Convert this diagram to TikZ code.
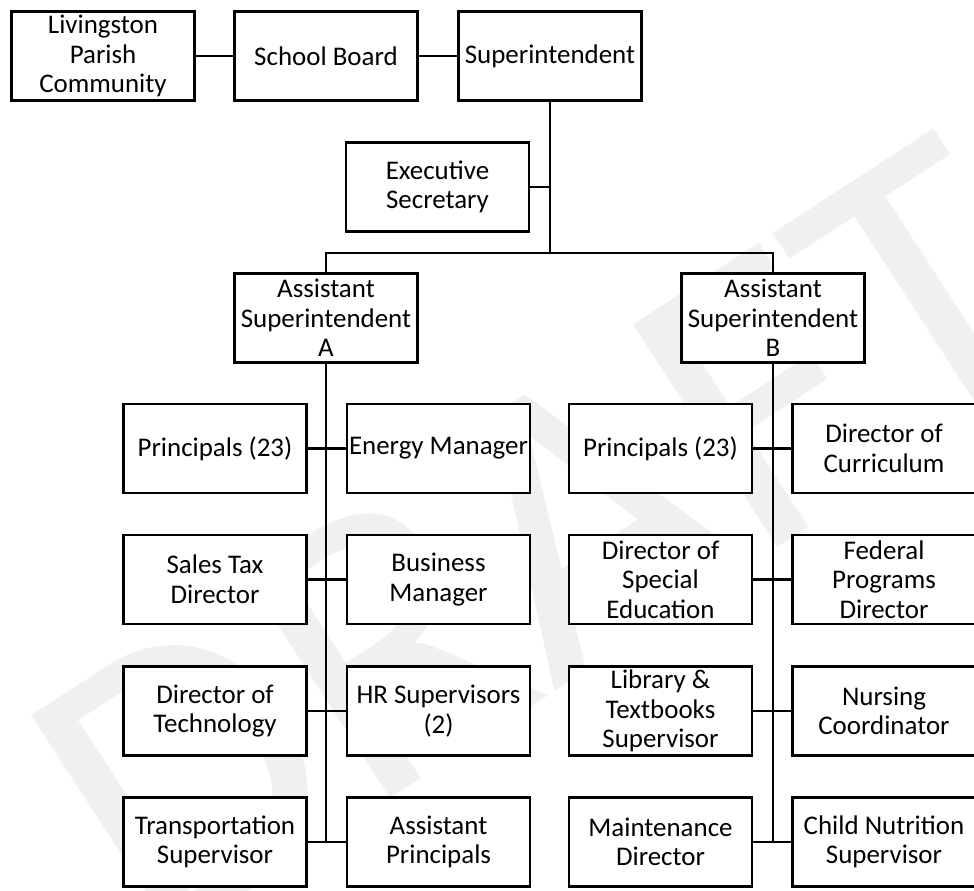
\documentclass[tikz,border=0pt]{standalone}
\usepackage{fontspec}
\setmainfont{Carlito}
\begin{document}
\begin{tikzpicture}[x=0.75pt,y=-0.75pt,
  box/.style={draw=black,line width=1.8pt,fill=white,minimum width=137pt,minimum height=67pt,
    inner sep=0pt,align=center,font=\fontsize{20.2pt}{22.2pt}\selectfont},
  link/.style={line width=1.6pt},
  trunk/.style={line width=2.1pt}]
\useasboundingbox (0,0) rectangle (974,890);
\clip (0,0) rectangle (974,890);
\node[rotate=33,text=gray!12,font=\fontsize{310pt}{310pt}\selectfont] (wm) at (545,540) {DRAFT};
% top row
\node[box] (lpc) at (103,56) {Livingston\\Parish\\Community};
\node[box] (sb) at (326,56) {School Board};
\node[box] (sup) at (550,56) {Superintendent};
\node[box] (exec) at (437.5,187) {Executive\\Secretary};
\node[box] (asa) at (326,318) {Assistant\\Superintendent\\A};
\node[box] (asb) at (773,318) {Assistant\\Superintendent\\B};
% A side
\node[box] (a1l) at (215,448.5) {Principals (23)};
\node[box] (a1r) at (438.5,448.5) {Energy Manager};
\node[box] (a2l) at (215,579.5) {Sales Tax\\Director};
\node[box] (a2r) at (438.5,579.5) {Business\\Manager};
\node[box] (a3l) at (215,711) {Director of\\Technology};
\node[box] (a3r) at (438.5,711) {HR Supervisors\\(2)};
\node[box] (a4l) at (215,842) {Transportation\\Supervisor};
\node[box] (a4r) at (438.5,842) {Assistant\\Principals};
% B side
\node[box] (b1l) at (660.5,448.5) {Principals (23)};
\node[box] (b1r) at (884,448.5) {Director of\\Curriculum};
\node[box] (b2l) at (660.5,579.5) {Director of\\Special\\Education};
\node[box] (b2r) at (884,579.5) {Federal\\Programs\\Director};
\node[box] (b3l) at (660.5,711) {Library \&\\Textbooks\\Supervisor};
\node[box] (b3r) at (884,711) {Nursing\\Coordinator};
\node[box] (b4l) at (660.5,842) {Maintenance\\Director};
\node[box] (b4r) at (884,842) {Child Nutrition\\Supervisor};
\coordinate (jn) at (550,253);
% connectors
\draw[link] (lpc.east) -- (sb.west);
\draw[link] (sb.east) -- (sup.west);
\draw[link] (sup.south) -- (jn);
\draw[link] (exec.east) -- (exec.east -| sup.south);
\draw[link] (asa.north) |- (jn) -| (asb.north);
\draw[trunk] (asa.south) -- (asa.south |- a4l.east);
\draw[trunk] (asb.south) -- (asb.south |- b4l.east);
\foreach \l/\r in {a1l/a1r,a2l/a2r,a3l/a3r,a4l/a4r,b1l/b1r,b2l/b2r,b3l/b3r,b4l/b4r}
  \draw[link] (\l.east) -- (\r.west);
\end{tikzpicture}
\end{document}
